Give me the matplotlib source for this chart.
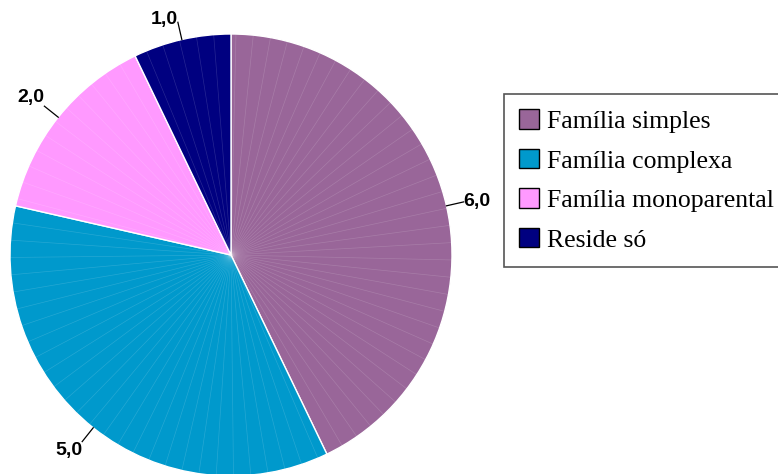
import numpy as np
import matplotlib.pyplot as plt
from matplotlib.patches import Patch

categorias = ['Família simples', 'Família complexa', 'Família monoparental', 'Reside só']
valores = [6.0, 5.0, 2.0, 1.0]
cores = ['#996699', '#0099CC', '#FF99FF', '#000080']

W, H = 778, 474
fig = plt.figure(figsize=(W / 100, H / 100), dpi=100)
ax = fig.add_axes([0, 0, 1, 1])

cx, cy, r = 231, H - 255, 221
wedges, _ = ax.pie(valores, colors=cores, startangle=90, counterclock=False,
                   center=(cx, cy), radius=r, frame=True,
                   wedgeprops=dict(edgecolor='white', linewidth=1.0))
ax.set_xlim(0, W)
ax.set_ylim(0, H)
ax.set_aspect('equal')
ax.axis('off')

# linhas radiais claras (aspecto do grafico original)
for w in wedges:
    for a in np.arange(w.theta1 + 4.5, w.theta2 - 1, 4.5):
        t = np.deg2rad(a)
        ax.plot([cx, cx + r * np.cos(t)], [cy, cy + r * np.sin(t)],
                color='white', lw=0.5, alpha=0.15, zorder=3)

# rotulos com linhas de chamada
for w, v in zip(wedges, valores):
    ang = np.deg2rad((w.theta1 + w.theta2) / 2)
    c, s = np.cos(ang), np.sin(ang)
    x0, y0 = cx + r * c, cy + r * s
    x1, y1 = cx + r * 1.08 * c, cy + r * 1.08 * s
    ax.plot([x0, x1], [y0, y1], color='black', lw=0.9)
    ha = 'left' if c > 0 else 'right'
    va = 'bottom' if s > 0.3 else ('top' if s < -0.3 else 'center')
    ax.text(x1, y1 - (6 if s > 0.9 else 0), f'{v:.1f}'.replace('.', ','), ha=ha, va=va,
            fontsize=14, fontweight='bold', family='Liberation Sans')

handles = [Patch(facecolor=c, edgecolor='black', linewidth=1.0) for c in cores]
leg = fig.legend(handles, categorias, loc='upper left',
                 bbox_to_anchor=(504 / W, 1 - 94 / H), borderaxespad=0,
                 prop={'family': 'Liberation Serif', 'size': 18.5},
                 handlelength=0.78, handleheight=0.78, handletextpad=0.3,
                 labelspacing=0.62, borderpad=0.6, fancybox=False, framealpha=1)
leg.get_frame().set_edgecolor('#555555')
leg.get_frame().set_linewidth(1.2)

fig.savefig('out.png', dpi=100)
